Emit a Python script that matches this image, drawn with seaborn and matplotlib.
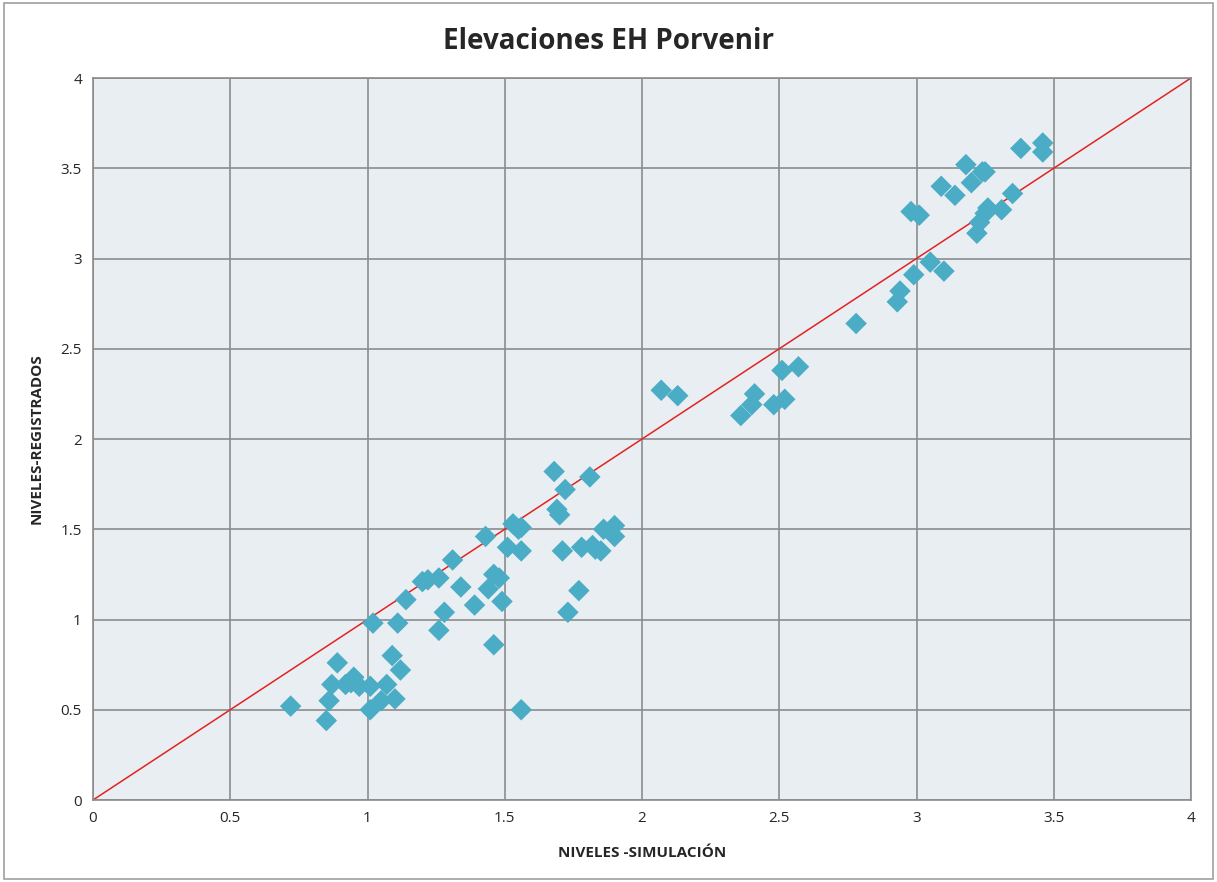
import matplotlib
matplotlib.use("Agg")
import matplotlib.pyplot as plt
import seaborn as sns
import numpy as np
import pandas as pd

# ===== DATOS =====
simulacion = [
    0.72, 0.86, 0.85, 0.87, 0.89, 0.92, 0.95, 0.94, 0.97, 1.01,
    1.01, 1.02, 1.07, 1.05, 1.09, 1.10, 1.12, 1.11, 1.14, 1.20,
    1.22, 1.26, 1.31, 1.34, 1.28, 1.26, 1.39, 1.43, 1.44, 1.46,
    1.48, 1.49, 1.46, 1.51, 1.53, 1.55, 1.56, 1.56, 1.56, 1.68,
    1.69, 1.70, 1.72, 1.71, 1.73, 1.77, 1.78, 1.81, 1.82, 1.83,
    1.85, 1.86, 1.90, 1.90,
    2.07, 2.13, 2.36, 2.40, 2.41, 2.48, 2.52, 2.51, 2.57,
    2.78, 2.93, 2.94, 2.99, 2.98, 3.01, 3.05, 3.10, 3.09, 3.14,
    3.18, 3.20, 3.24, 3.25, 3.22, 3.23, 3.25, 3.26, 3.31, 3.35,
    3.38, 3.46, 3.46,
]
registrados = [
    0.52, 0.55, 0.44, 0.64, 0.76, 0.64, 0.68, 0.65, 0.63, 0.63,
    0.50, 0.98, 0.64, 0.55, 0.80, 0.56, 0.72, 0.98, 1.11, 1.21,
    1.22, 1.23, 1.33, 1.18, 1.04, 0.94, 1.08, 1.46, 1.17, 1.25,
    1.23, 1.10, 0.86, 1.40, 1.53, 1.50, 1.51, 1.38, 0.50, 1.82,
    1.61, 1.58, 1.72, 1.38, 1.04, 1.16, 1.40, 1.79, 1.41, 1.39,
    1.38, 1.50, 1.52, 1.46,
    2.27, 2.24, 2.13, 2.19, 2.25, 2.19, 2.22, 2.38, 2.40,
    2.64, 2.76, 2.82, 2.91, 3.26, 3.24, 2.98, 2.93, 3.40, 3.35,
    3.52, 3.42, 3.48, 3.48, 3.14, 3.20, 3.25, 3.28, 3.27, 3.36,
    3.61, 3.64, 3.59,
]
linea_x = [0, 4]
linea_y = [0, 4]
ticks = [0, 0.5, 1, 1.5, 2, 2.5, 3, 3.5, 4]
tick_labels = ["0", "0.5", "1", "1.5", "2", "2.5", "3", "3.5", "4"]

df = pd.DataFrame({"sim": simulacion, "reg": registrados})

# ===== FIGURA =====
sns.set_style("white")
plt.rcParams["font.family"] = ["Open Sans", "DejaVu Sans"]

fig = plt.figure(figsize=(12.17, 8.82), dpi=100)
ax = fig.add_axes([93 / 1217, 82 / 882, 1098 / 1217, 722 / 882])
ax.set_facecolor("#e8eef2")

sns.scatterplot(data=df, x="sim", y="reg", marker="D", s=120,
                color="#4bacc6", edgecolor="none", ax=ax, zorder=3)
sns.lineplot(x=linea_x, y=linea_y, color="#e32222", linewidth=1.1,
             ax=ax, zorder=2)

ax.set_xlim(0, 4)
ax.set_ylim(0, 4)
ax.set_xticks(ticks)
ax.set_yticks(ticks)
ax.set_xticklabels(tick_labels, fontsize=11)
ax.set_yticklabels(tick_labels, fontsize=11)
ax.grid(True, color="#8c8c8c", linewidth=1.2, zorder=0)
ax.set_axisbelow(True)
for s in ax.spines.values():
    s.set_color("#8c8c8c")
    s.set_linewidth(1.2)
ax.tick_params(length=0, pad=8)

ax.set_xlabel("NIVELES -SIMULACIÓN", fontsize=11, fontweight="bold", labelpad=14)
ax.set_ylabel("NIVELES-REGISTRADOS", fontsize=11, fontweight="bold", labelpad=12)
fig.text(0.5, 0.953, "Elevaciones EH Porvenir", ha="center", va="center",
         fontsize=20, fontweight="bold")

# borde exterior
fig.patches.append(plt.Rectangle((0.003, 0.003), 0.994, 0.994, fill=False,
                                 edgecolor="#a0a0a0", linewidth=1.2,
                                 transform=fig.transFigure, figure=fig))

fig.savefig("out.png", dpi=100)
